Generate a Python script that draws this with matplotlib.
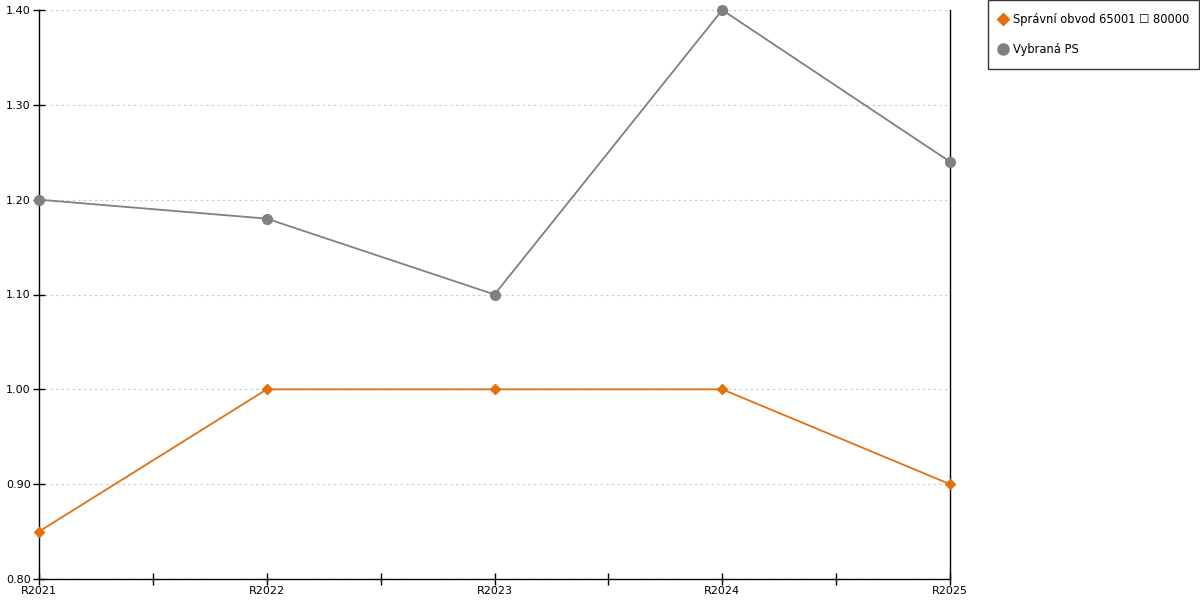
import numpy as np
import matplotlib.pyplot as plt
from matplotlib.lines import Line2D

years = ["R2021", "R2022", "R2023", "R2024", "R2025"]
obvod = [0.85, 1.00, 1.00, 1.00, 0.90]
vybrana = [1.20, 1.18, 1.10, 1.40, 1.24]
yticks = [0.80, 0.90, 1.00, 1.10, 1.20, 1.30, 1.40]

orange = "#e3700f"
grey = "#808080"

plt.rcParams["font.family"] = ["DejaVu Sans"]
plt.rcParams["font.size"] = 8

fig = plt.figure(figsize=(12, 6), dpi=100)
ax = fig.add_axes([39 / 1200, 21 / 600, 911 / 1200, 569 / 600])

x = np.arange(len(years))
ax.plot(x, vybrana, color=grey, lw=1.3, marker="o", ms=7, zorder=3, clip_on=False)
ax.plot(x, obvod, color=orange, lw=1.3, marker="D", ms=5, zorder=3, clip_on=False)

ax.set_xlim(0, len(years) - 1)
ax.set_ylim(0.8, 1.4)
ax.set_yticks(yticks)
ax.set_yticklabels([f"{v:.2f}" for v in yticks])
ax.set_xticks(x)
ax.set_xticklabels(years)
ax.set_xticks(x[:-1] + 0.5, minor=True)
ax.tick_params(axis="both", which="both", direction="inout", length=8, width=1, pad=2)
ax.tick_params(axis="x", which="major", pad=1)

ax.yaxis.grid(True, color="#c8c8c8", ls=(0, (2, 3)), lw=0.8)
ax.set_axisbelow(True)
ax.spines["top"].set_visible(False)
for s in ["left", "bottom", "right"]:
    ax.spines[s].set_linewidth(1)

handles = [
    Line2D([], [], color=orange, marker="D", ls="none", ms=6),
    Line2D([], [], color=grey, marker="o", ls="none", ms=8),
]
labels = ["Správní obvod 65001 \u2610 80000", "Vybraná PS"]
leg = fig.legend(handles, labels, loc="upper left",
                 bbox_to_anchor=(988 / 1200, 0, 211 / 1200, 1.0), mode="expand",
                 fontsize=8.3, frameon=True, fancybox=False, edgecolor="black",
                 borderpad=1.15, labelspacing=1.45, handletextpad=0.7,
                 handlelength=0.3, borderaxespad=0)
leg.get_frame().set_linewidth(1)

fig.savefig("out.png", dpi=100)
